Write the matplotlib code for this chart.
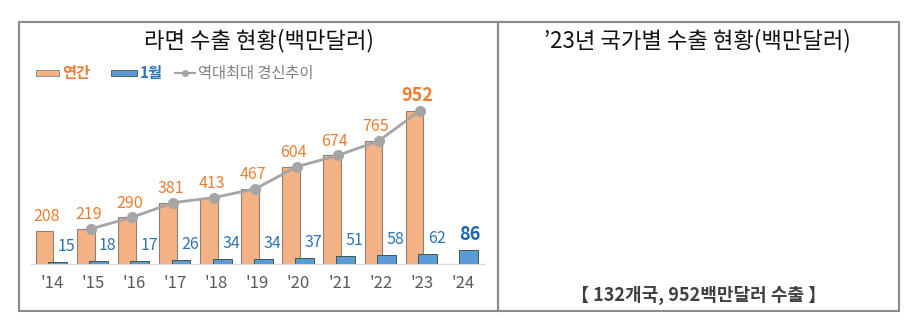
import numpy as np
import matplotlib
matplotlib.use("Agg")
import matplotlib.pyplot as plt
from matplotlib.patches import Rectangle
from matplotlib.lines import Line2D

plt.rcParams['font.family'] = ['Noto Sans CJK KR', 'DejaVu Sans']

# ---- data ----
years = ["'14", "'15", "'16", "'17", "'18", "'19", "'20", "'21", "'22", "'23", "'24"]
annual = [208, 219, 290, 381, 413, 467, 604, 674, 765, 952]
january = [15, 18, 17, 26, 34, 34, 37, 51, 58, 62, 86]
record_years_idx = [1, 2, 3, 4, 5, 6, 7, 8, 9]   # '15 .. '23

left_title = "라면 수출 현황(백만달러)"
right_title = "’23년 국가별 수출 현황(백만달러)"
right_note = "【 132개국, 952백만달러 수출 】"
legend_labels = ["연간", "1월", "역대최대 경신추이"]

W, H = 916, 325
fig = plt.figure(figsize=(W / 100, H / 100), dpi=100)

def fx(x):
    return x / W

def fy(y):
    return 1 - y / H

ORANGE = '#F4B183'
ORANGE_TXT = '#ED7D31'
BLUE = '#5B9BD5'
BLUE_TXT = '#2E75B6'
GRAY_LINE = '#A5A5A5'

# ---- frames ----
frame_col = '#8A8A8A'
fig.add_artist(Rectangle((fx(19), fy(311)), fx(498) - fx(19), fy(22) - fy(311),
                         transform=fig.transFigure, fill=False, ec=frame_col, lw=1.5))
fig.add_artist(Rectangle((fx(498), fy(311)), fx(899) - fx(498), fy(22) - fy(311),
                         transform=fig.transFigure, fill=False, ec=frame_col, lw=1.5))

# ---- titles ----
fig.text(fx(259), fy(41), left_title, ha='center', va='center', fontsize=16, color='#111111')
fig.text(fx(697), fy(41), right_title, ha='center', va='center', fontsize=16, color='#111111')
fig.text(fx(699), fy(295), right_note, ha='center', va='center', fontsize=13,
         fontweight='bold', color='#404040')

# ---- chart axes ----
ax = fig.add_axes([fx(31), 61 / H, 453 / W, 174 / H])
ax.set_xlim(-0.51, 10.51)
ax.set_ylim(0, 174 / 0.161)

xa = np.arange(len(annual))
xj = np.arange(len(january))

ax.bar(xa - 0.18, annual, width=0.43, color=ORANGE, edgecolor='#8C8078', lw=0.8, zorder=2)
ax.bar(xj + 0.14, january, width=0.46, color=BLUE, edgecolor='#3D5A4C', lw=0.7, zorder=3)

rx = np.array(record_years_idx) - 0.05
ry = [annual[i] for i in record_years_idx]
ax.plot(rx, ry, color=GRAY_LINE, lw=2, marker='o', ms=7, zorder=4)

for i, v in enumerate(annual):
    last = i == len(annual) - 1
    ax.annotate(str(v), (i - 0.12, v), xytext=(0, 11 if last else 10), textcoords='offset points',
                ha='center', va='center', color=ORANGE_TXT,
                fontsize=13 if last else 11.5, fontweight='bold' if last else 'normal', zorder=5)

for i, v in enumerate(january):
    last = i == len(january) - 1
    ax.annotate(str(v), (i + (0.17 if last else 0.36), v), xytext=(0, 11.5 if last else 11),
                textcoords='offset points', ha='center', va='center',
                color='#1A68B0' if last else BLUE_TXT,
                fontsize=13 if last else 11.5, fontweight='bold' if last else 'normal', zorder=5)

ax.set_xticks(xj)
ax.set_xticklabels(years, color='#595959', fontsize=12)
ax.tick_params(axis='x', length=0, pad=8)
ax.set_yticks([])
for s in ['top', 'left', 'right']:
    ax.spines[s].set_visible(False)
ax.spines['bottom'].set_color('#D9D9D9')
ax.spines['bottom'].set_linewidth(1)
ax.patch.set_alpha(0)

# ---- legend (manual) ----
ly = 73
fig.add_artist(Rectangle((fx(36), fy(76)), fx(59) - fx(36), fy(70) - fy(76),
                         transform=fig.transFigure, fc=ORANGE, ec='#8C8078', lw=0.6))
fig.text(fx(62), fy(ly), legend_labels[0], ha='left', va='center', fontsize=11,
         color=ORANGE_TXT, fontweight='bold')
fig.add_artist(Rectangle((fx(111), fy(76)), fx(137) - fx(111), fy(70) - fy(76),
                         transform=fig.transFigure, fc=BLUE, ec='#3D5A4C', lw=0.6))
fig.text(fx(140), fy(ly), legend_labels[1], ha='left', va='center', fontsize=11,
         color=BLUE_TXT, fontweight='bold')
fig.add_artist(Line2D([fx(175), fx(195)], [fy(ly), fy(ly)], transform=fig.transFigure,
                      color=GRAY_LINE, lw=1.5))
fig.add_artist(Line2D([fx(185)], [fy(ly)], transform=fig.transFigure,
                      color=GRAY_LINE, marker='o', ms=4))
fig.text(fx(198), fy(ly), legend_labels[2], ha='left', va='center', fontsize=11,
         color='#7F7F7F')

fig.savefig('out.png', dpi=100)
